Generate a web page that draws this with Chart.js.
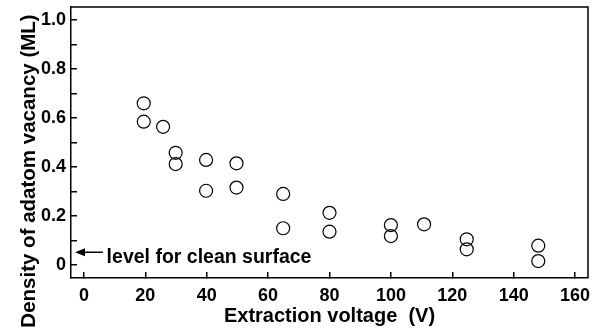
<!DOCTYPE html>
<html>
<head>
<meta charset="utf-8">
<script src="https://cdn.jsdelivr.net/npm/chart.js@4"></script>
<style>
  html, body { margin: 0; padding: 0; background: #fff; }
  #wrap { width: 602px; height: 332px; }
</style>
</head>
<body>
<div id="wrap"><canvas id="chart" width="602" height="332"></canvas></div>
<script>
// Extraction voltage (V) / density of adatom vacancy (ML)
const voltage = [19.5, 19.5, 25.8, 29.9, 29.9, 39.8, 39.8, 49.7, 49.7, 64.9, 64.9, 80, 80, 100, 100, 110.8, 124.7, 124.7, 148, 148];
const density = [0.660, 0.585, 0.564, 0.458, 0.412, 0.429, 0.303, 0.415, 0.316, 0.290, 0.150, 0.213, 0.136, 0.163, 0.118, 0.166, 0.105, 0.064, 0.079, 0.016];

const xTicks = [0, 20, 40, 60, 80, 100, 120, 140, 160];
const yTicks = [0, 0.1, 0.2, 0.3, 0.4, 0.5, 0.6, 0.7, 0.8, 0.9, 1.0];
const yTickLabels = ['0', '', '0.2', '', '0.4', '', '0.6', '', '0.8', '', '1.0'];

const xTitle = 'Extraction voltage  (V)';
const yTitle = 'Density of adatom vacancy (ML)';
const cleanLevel = 0.052;
const cleanLabel = 'level for clean surface';

const FONT = 'Liberation Sans, Arial, Helvetica, sans-serif';

// marco superior y derecho
const framePlugin = {
    id: 'frame',
    afterDraw(chart) {
        const { ctx, chartArea: a } = chart;
        ctx.save();
        ctx.strokeStyle = '#000';
        ctx.lineWidth = 1.5;
        ctx.beginPath();
        ctx.moveTo(a.left, a.top);
        ctx.lineTo(a.right, a.top);
        ctx.lineTo(a.right, a.bottom);
        ctx.stroke();
        ctx.restore();
    }
};

// titulo del eje Y, algo desplazado hacia abajo como en el original
const yTitlePlugin = {
    id: 'yTitle',
    afterDraw(chart) {
        const { ctx } = chart;
        ctx.save();
        ctx.translate(29, 171);
        ctx.rotate(-Math.PI / 2);
        ctx.font = 'bold 20.5px ' + FONT;
        ctx.fillStyle = '#000';
        ctx.textAlign = 'center';
        ctx.textBaseline = 'middle';
        ctx.fillText(yTitle, 0, 0);
        ctx.restore();
    }
};

// flecha + texto "level for clean surface"
const cleanLevelPlugin = {
    id: 'cleanLevel',
    afterDraw(chart) {
        const { ctx, scales } = chart;
        const y = scales.y.getPixelForValue(cleanLevel);
        const x0 = scales.x.getPixelForValue(-2.9);
        const x1 = scales.x.getPixelForValue(6.2);
        ctx.save();
        ctx.strokeStyle = '#000';
        ctx.fillStyle = '#000';
        ctx.lineWidth = 1.5;
        ctx.beginPath();
        ctx.moveTo(x0 + 6, y);
        ctx.lineTo(x1, y);
        ctx.stroke();
        ctx.beginPath();
        ctx.moveTo(x0, y);
        ctx.lineTo(x0 + 10, y - 4);
        ctx.lineTo(x0 + 10, y + 4);
        ctx.closePath();
        ctx.fill();
        ctx.font = 'bold 19.5px ' + FONT;
        ctx.textBaseline = 'alphabetic';
        ctx.textAlign = 'left';
        ctx.fillText(cleanLabel, scales.x.getPixelForValue(7.4), y + 11);
        ctx.restore();
    }
};

new Chart(document.getElementById('chart'), {
    type: 'scatter',
    data: {
        datasets: [{
            data: voltage.map((v, i) => ({ x: v, y: density[i] })),
            pointStyle: 'circle',
            pointRadius: 6.5,
            pointBorderWidth: 1.2,
            pointBorderColor: '#000',
            pointBackgroundColor: 'rgba(0,0,0,0)'
        }]
    },
    options: {
        responsive: false,
        animation: false,
        layout: { autoPadding: false, padding: { top: 7, right: 14, left: 0, bottom: 0 } },
        plugins: { legend: { display: false }, tooltip: { enabled: false } },
        scales: {
            x: {
                type: 'linear',
                min: -4.2,
                max: 164.2,
                afterBuildTicks: s => { s.ticks = xTicks.map(v => ({ value: v })); },
                afterFit: s => { s.height = 54; s.paddingLeft = 0; s.paddingRight = 0; },
                border: { display: true, color: '#000', width: 1.5 },
                grid: { drawOnChartArea: false, drawTicks: true, tickLength: -6, color: '#000', lineWidth: 1.5 },
                ticks: {
                    color: '#000',
                    padding: 13,
                    maxRotation: 0,
                    autoSkip: false,
                    font: { family: FONT, size: 18, weight: 'bold' },
                    callback: v => String(v)
                },
                title: {
                    display: true,
                    text: xTitle,
                    color: '#000',
                    font: { family: FONT, size: 20, weight: 'bold' },
                    padding: { top: 0, bottom: 4 }
                }
            },
            y: {
                type: 'linear',
                min: -0.053,
                max: 1.053,
                afterBuildTicks: s => { s.ticks = yTicks.map(v => ({ value: v })); },
                afterFit: s => { s.width = 71; s.paddingTop = 0; s.paddingBottom = 0; },
                border: { display: true, color: '#000', width: 1.5 },
                grid: { drawOnChartArea: false, drawTicks: true, tickLength: -6, color: '#000', lineWidth: 1.5 },
                ticks: {
                    color: '#000',
                    padding: 11,
                    autoSkip: false,
                    font: { family: FONT, size: 18, weight: 'bold' },
                    callback: (v, i) => yTickLabels[i]
                }
            }
        }
    },
    plugins: [framePlugin, yTitlePlugin, cleanLevelPlugin]
});
</script>
</body>
</html>
